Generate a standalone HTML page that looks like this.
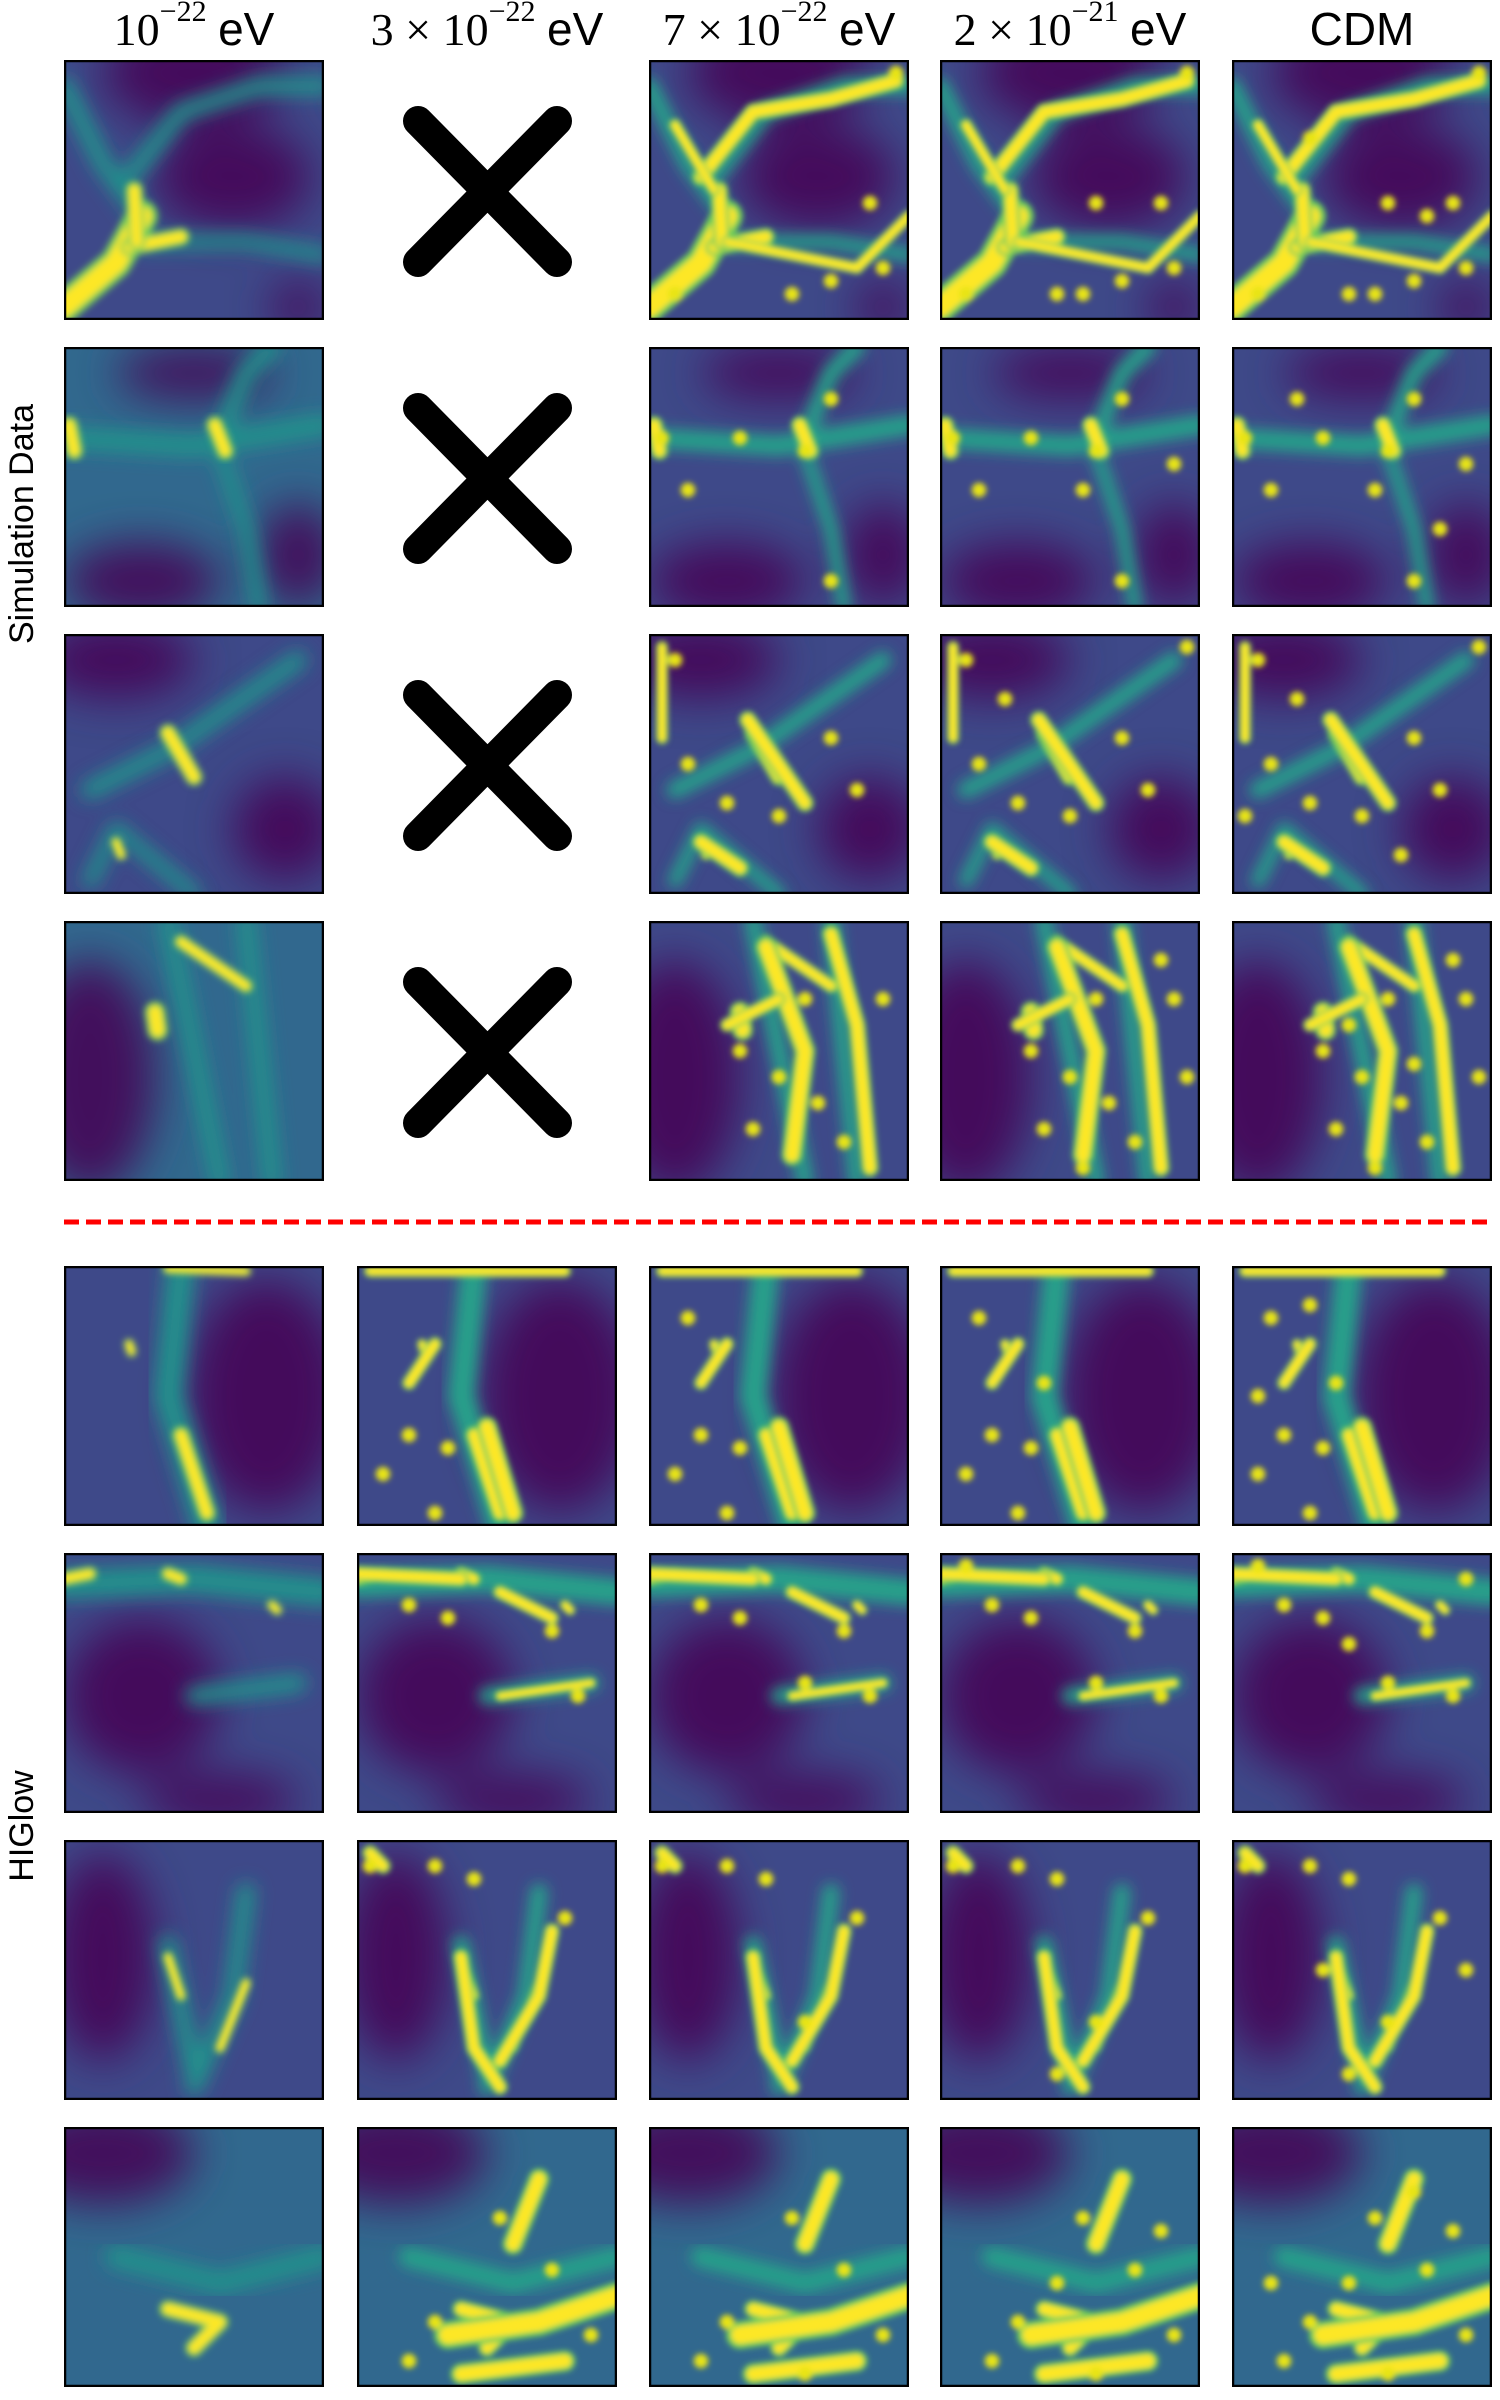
<!DOCTYPE html>
<html><head><meta charset="utf-8">
<style>
html,body{margin:0;padding:0;background:#fff;}
#fig{position:relative;width:1500px;height:2400px;overflow:hidden;background:#fff;}
.title{position:absolute;top:2px;width:300px;text-align:center;font-size:46px;line-height:54px;white-space:nowrap;color:#000;}
.serif{font-family:"Liberation Serif",serif;}
.sans{font-family:"Liberation Sans",sans-serif;}
.title sup{font-size:30px;position:relative;top:-6px;vertical-align:top;line-height:32px;}
.ylab{position:absolute;font-family:"Liberation Sans",sans-serif;font-size:34px;transform:rotate(-90deg);transform-origin:center center;white-space:nowrap;width:400px;text-align:center;height:40px;line-height:40px;}
svg.panel{position:absolute;}
</style></head>
<body>
<div id="fig">
  <div class="title" style="left:44px"><span class="serif">10<sup>−22</sup></span> <span class="sans">eV</span></div>
  <div class="title" style="left:337px"><span class="serif">3 × 10<sup>−22</sup></span> <span class="sans">eV</span></div>
  <div class="title" style="left:629px"><span class="serif">7 × 10<sup>−22</sup></span> <span class="sans">eV</span></div>
  <div class="title" style="left:920px"><span class="serif">2 × 10<sup>−21</sup></span> <span class="sans">eV</span></div>
  <div class="title sans" style="left:1212px">CDM</div>
  <div class="ylab" style="left:-178px;top:504px">Simulation Data</div>
  <div class="ylab" style="left:-178px;top:1806px">HIGlow</div>
  <svg style="position:absolute;left:0;top:0" width="1500" height="2400">
    <line x1="64" y1="1222" x2="1492" y2="1222" stroke="#ff0000" stroke-width="5" stroke-dasharray="15 7"/>
    <g><line x1="418" y1="121" x2="557" y2="262" stroke="#000" stroke-width="30" stroke-linecap="round"/><line x1="557" y1="121" x2="418" y2="262" stroke="#000" stroke-width="30" stroke-linecap="round"/></g>
    <g><line x1="418" y1="408" x2="557" y2="549" stroke="#000" stroke-width="30" stroke-linecap="round"/><line x1="557" y1="408" x2="418" y2="549" stroke="#000" stroke-width="30" stroke-linecap="round"/></g>
    <g><line x1="418" y1="695" x2="557" y2="836" stroke="#000" stroke-width="30" stroke-linecap="round"/><line x1="557" y1="695" x2="418" y2="836" stroke="#000" stroke-width="30" stroke-linecap="round"/></g>
    <g><line x1="418" y1="982" x2="557" y2="1123" stroke="#000" stroke-width="30" stroke-linecap="round"/><line x1="557" y1="982" x2="418" y2="1123" stroke="#000" stroke-width="30" stroke-linecap="round"/></g>
  </svg>
</div>
<script>
const colX = [64, 357, 649, 940, 1232];
const rowY = [60, 347, 634, 921, 1266, 1553, 1840, 2127];
const S = 260;
const rowBg = ['#3e4989','#31688e','#3e4989','#31688e','#3e4989','#3e4989','#3e4989','#31688e'];
const rowDark = [
 [[0.5,0.05,0.35,0.2],[0.65,0.45,0.3,0.2],[0.9,0.95,0.1,0.1]],
 [[0.3,0.9,0.3,0.15],[0.9,0.8,0.15,0.2],[0.5,0.1,0.3,0.1]],
 [[0.85,0.75,0.2,0.2],[0.2,0.1,0.3,0.15]],
 [[0.1,0.6,0.25,0.45]],
 [[0.78,0.5,0.3,0.45]],
 [[0.3,0.55,0.3,0.3],[0.6,0.95,0.3,0.1]],
 [[0.15,0.45,0.2,0.4]],
 [[0.15,0.1,0.35,0.2]]
];
const rowFil = [
 [[[[0,0.1],[0.15,0.4],[0.3,0.6]],0.05],[[[0.25,0.45],[0.45,0.2],[0.75,0.1],[1,0.1]],0.05],[[[0.3,0.7],[0.7,0.7],[1,0.75]],0.04]],
 [[[[0,0.35],[0.5,0.38],[1,0.3]],0.06],[[[0.6,0.35],[0.7,0.1],[0.8,0]],0.05],[[[0.6,0.4],[0.7,0.7],[0.75,1]],0.04]],
 [[[[0.1,0.6],[0.4,0.45],[0.9,0.1]],0.05],[[[0.1,0.95],[0.2,0.75],[0.5,1]],0.04]],
 [[[[0.4,0],[0.5,0.5],[0.6,1]],0.05],[[[0.7,0],[0.75,0.5],[0.8,1]],0.05]],
 [[[[0.45,0],[0.4,0.5],[0.55,1]],0.08]],
 [[[[0,0.12],[0.5,0.1],[1,0.15]],0.08],[[[0.5,0.55],[0.9,0.5]],0.05]],
 [[[[0.4,0.4],[0.5,0.9]],0.05],[[[0.7,0.2],[0.65,0.6],[0.5,0.95]],0.05]],
 [[[[0.2,0.5],[0.6,0.6],[1,0.5]],0.06]]
];
const rowHot = [
 [[[[0,0.95],[0.2,0.78],[0.3,0.6]],0.09],[[[0.25,0.72],[0.45,0.68]],0.05],[[[0.28,0.7],[0.27,0.5]],0.05]],
 [[[[0.58,0.3],[0.62,0.4]],0.05],[[[0.02,0.3],[0.04,0.4]],0.05]],
 [[[[0.4,0.38],[0.5,0.55]],0.05],[[[0.2,0.8],[0.22,0.85]],0.03]],
 [[[[0.35,0.35],[0.36,0.42]],0.06],[[[0.45,0.08],[0.7,0.25]],0.04]],
 [[[[0.45,0.65],[0.55,0.95]],0.05],[[[0.25,0.3],[0.26,0.33]],0.03],[[[0.4,0.01],[0.7,0.02]],0.03]],
 [[[[0,0.1],[0.1,0.08]],0.04],[[[0.4,0.08],[0.45,0.1]],0.04],[[[0.8,0.2],[0.82,0.22]],0.03]],
 [[[[0.4,0.45],[0.45,0.6]],0.03],[[[0.7,0.55],[0.6,0.8]],0.03]],
 [[[[0.4,0.7],[0.6,0.75],[0.5,0.85]],0.05]]
];
const rowHot2 = [
 [[[[0.2,0.45],[0.4,0.2],[0.7,0.15],[0.95,0.08]],0.05],[[[0.1,0.25],[0.25,0.5]],0.035],[[[0.3,0.7],[0.8,0.8],[1,0.6]],0.035]],
 [],
 [[[[0.38,0.33],[0.6,0.65]],0.05],[[[0.2,0.8],[0.35,0.9]],0.05],[[[0.05,0.05],[0.05,0.4]],0.035]],
 [[[[0.45,0.1],[0.6,0.5],[0.55,0.9]],0.06],[[[0.7,0.05],[0.8,0.4],[0.85,0.95]],0.05],[[[0.3,0.4],[0.5,0.3]],0.04]],
 [[[[0.5,0.62],[0.6,0.95]],0.06],[[[0.3,0.3],[0.2,0.45]],0.04],[[[0.05,0.02],[0.8,0.02]],0.035]],
 [[[[0,0.08],[0.4,0.1]],0.045],[[[0.55,0.15],[0.75,0.25]],0.04],[[[0.55,0.55],[0.9,0.5]],0.03]],
 [[[[0.4,0.45],[0.45,0.8],[0.55,0.95]],0.045],[[[0.75,0.35],[0.7,0.6],[0.55,0.85]],0.045],[[[0.05,0.05],[0.1,0.1]],0.045]],
 [[[[0.35,0.8],[0.7,0.75],[1,0.65]],0.08],[[[0.6,0.45],[0.7,0.2]],0.06],[[[0.4,0.95],[0.8,0.9]],0.06]]
];
const rowDots = [
 [[0.85,0.55],[0.7,0.85],[0.55,0.9],[0.9,0.8],[0.1,0.9],[0.95,0.05],[0.6,0.55],[0.45,0.9],[0.75,0.6],[0.3,0.3]],
 [[0.6,0.4],[0.7,0.2],[0.05,0.35],[0.7,0.9],[0.15,0.55],[0.35,0.35],[0.9,0.45],[0.55,0.55],[0.25,0.2],[0.8,0.7]],
 [[0.1,0.1],[0.7,0.4],[0.8,0.6],[0.3,0.65],[0.5,0.7],[0.15,0.5],[0.95,0.05],[0.25,0.25],[0.65,0.85],[0.05,0.7]],
 [[0.5,0.6],[0.65,0.7],[0.4,0.8],[0.9,0.3],[0.6,0.3],[0.75,0.85],[0.35,0.5],[0.95,0.6],[0.55,0.95],[0.85,0.15],[0.45,0.4],[0.7,0.55]],
 [[0.1,0.8],[0.2,0.65],[0.35,0.7],[0.3,0.95],[0.15,0.2],[0.4,0.45],[0.1,0.5],[0.3,0.15]],
 [[0.2,0.2],[0.35,0.25],[0.75,0.3],[0.85,0.55],[0.6,0.5],[0.1,0.05],[0.9,0.1],[0.45,0.35]],
 [[0.05,0.1],[0.45,0.15],[0.3,0.1],[0.8,0.3],[0.6,0.7],[0.45,0.9],[0.35,0.5],[0.9,0.5]],
 [[0.55,0.35],[0.75,0.55],[0.3,0.75],[0.9,0.8],[0.2,0.9],[0.6,0.95],[0.45,0.6],[0.85,0.4],[0.15,0.6],[0.7,0.25]]
];
const NS='http://www.w3.org/2000/svg';
const fig=document.getElementById('fig');
function mk(t,a){const e=document.createElementNS(NS,t);for(const k in a)e.setAttribute(k,a[k]);return e;}
function pts(p){return p.map(q=>(q[0]*S).toFixed(1)+','+(q[1]*S).toFixed(1)).join(' ');}
for(let r=0;r<8;r++){
 for(let c=0;c<5;c++){
  if(r<4&&c===1)continue;
  const svg=mk('svg',{class:'panel',width:S,height:S});
  
  
  svg.style.left=colX[c]+'px';svg.style.top=rowY[r]+'px';
  const id='p'+r+'_'+c;
  const defs=mk('defs',{});
  defs.innerHTML='<filter id="d'+id+'" x="-50%" y="-50%" width="200%" height="200%"><feGaussianBlur stdDeviation="22"/></filter>'+
   '<filter id="f'+id+'" x="-50%" y="-50%" width="200%" height="200%"><feGaussianBlur stdDeviation="'+(c===0?9:7)+'"/></filter>'+
   '<filter id="h'+id+'" x="-50%" y="-50%" width="200%" height="200%"><feGaussianBlur stdDeviation="'+(c===0?3.5:3)+'"/></filter>'+
   '<clipPath id="c'+id+'"><rect width="'+S+'" height="'+S+'"/></clipPath>';
  svg.appendChild(defs);
  const g=mk('g',{'clip-path':'url(#c'+id+')'});
  g.appendChild(mk('rect',{width:S,height:S,fill:(r<4&&c>=2)?'#3e4989':rowBg[r]}));
  const gd=mk('g',{filter:'url(#d'+id+')'});
  rowDark[r].forEach(d=>gd.appendChild(mk('ellipse',{cx:d[0]*S,cy:d[1]*S,rx:d[2]*S,ry:d[3]*S,fill:'#440154',opacity:0.85})));
  g.appendChild(gd);
  const gf=mk('g',{filter:'url(#f'+id+')'});
  rowFil[r].forEach(f=>gf.appendChild(mk('polyline',{points:pts(f[0]),fill:'none',stroke:c===0?'#21918c':'#26a08a','stroke-width':f[1]*S*(c===0?1.4:1.3),'stroke-linecap':'round','stroke-linejoin':'round'})));
  g.appendChild(gf);
  const hots=c===0?rowHot[r]:rowHot[r].concat(rowHot2[r]);
  const gh=mk('g',{filter:'url(#h'+id+')'});
  hots.forEach(h=>{
   gh.appendChild(mk('polyline',{points:pts(h[0]),fill:'none',stroke:'#6ece58','stroke-width':h[1]*S*1.35,'stroke-linecap':'round','stroke-linejoin':'round'}));
   gh.appendChild(mk('polyline',{points:pts(h[0]),fill:'none',stroke:'#fde725','stroke-width':h[1]*S*0.85,'stroke-linecap':'round','stroke-linejoin':'round'}));
  });
  if(c>=1){
   const frac=[0,0.5,0.6,0.8,1][c];
   const dots=rowDots[r];
   const n=Math.round(dots.length*frac);
   for(let i=0;i<n;i++){
    gh.appendChild(mk('circle',{cx:dots[i][0]*S,cy:dots[i][1]*S,r:0.028*S,fill:'#e8e419'}));
   }
  }
  g.appendChild(gh);
  svg.appendChild(g);
  svg.appendChild(mk('rect',{x:1,y:1,width:S-2,height:S-2,fill:'none',stroke:'#000','stroke-width':2.5}));
  fig.appendChild(svg);
 }
}
</script>
</body></html>
